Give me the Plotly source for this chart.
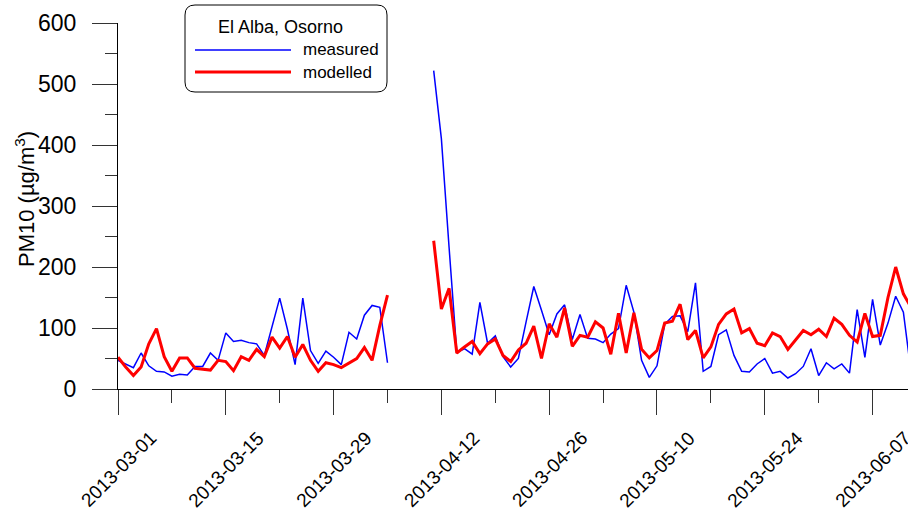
import pandas as pd
import plotly.graph_objects as go

# ---------------- data ----------------
start_date = "2013-03-01"
n_days = 104  # 2013-03-01 .. 2013-06-12

measured_part1 = [47, 41, 35, 59, 38, 29, 28, 21, 24, 23, 37, 37, 59, 47, 92, 78, 80, 76,
                  74, 55, 100, 149, 98, 40, 149, 63, 42, 62, 52, 40, 93, 82, 121, 137, 134, 43]
measured_part2 = [522, 410, 232, 60, 66, 57, 142, 75, 87, 53, 36, 50, 110, 168, 129, 89, 123,
                  138, 81, 122, 83, 82, 76, 90, 99, 170, 126, 47, 19, 38, 106, 119, 120, 94,
                  174, 29, 37, 89, 97, 55, 29, 28, 41, 50, 26, 29, 18, 25, 37, 66, 22, 43, 33,
                  41, 26, 130, 52, 147, 72, 108, 152, 126, 27]

modelled_part1 = [52, 36, 22, 36, 74, 99, 53, 29, 51, 51, 34, 32, 31, 47, 45, 30, 53, 47,
                  65, 53, 85, 67, 86, 52, 73, 47, 29, 43, 40, 35, 42, 50, 68, 47, 104, 154]
modelled_part2 = [243, 131, 165, 59, 69, 78, 58, 74, 82, 55, 45, 64, 75, 103, 50, 107, 85,
                  133, 70, 88, 85, 110, 100, 57, 124, 59, 125, 65, 51, 63, 108, 111, 139, 81,
                  96, 51, 69, 106, 123, 131, 92, 99, 75, 71, 92, 86, 65, 80, 96, 89, 98, 86,
                  116, 106, 88, 77, 124, 86, 88, 150, 200, 156, 134]

gap = [None] * 5  # 2013-04-06 .. 2013-04-10 missing

measured = measured_part1 + gap + measured_part2
modelled = modelled_part1 + gap + modelled_part2

tick_labels = ["2013-03-01", "2013-03-15", "2013-03-29", "2013-04-12",
               "2013-04-26", "2013-05-10", "2013-05-24", "2013-06-07"]

station = "El Alba, Osorno"
series_names = ["measured", "modelled"]
y_title = "PM10 (µg/m<sup>3</sup>)"

dates = pd.date_range(start_date, periods=n_days, freq="D")

# ---------------- figure ----------------
W, H = 908, 515
PL, PT, PB = 118, 23, 389        # plot area edges in pixels
ML, MR, MT, MB = PL, 0, PT, H - PB
PW, PH = W - ML - MR, H - MT - MB
FONT = "Liberation Sans, Arial, sans-serif"


def px(xp):
    return (xp - PL) / PW


def py(yp):
    return (PB - yp) / PH


fig = go.Figure()
fig.add_trace(go.Scatter(x=dates, y=measured, mode="lines", name=series_names[0],
                         line=dict(color="#0000FF", width=1.5), connectgaps=False,
                         showlegend=False))
fig.add_trace(go.Scatter(x=dates, y=modelled, mode="lines", name=series_names[1],
                         line=dict(color="#FF0000", width=3), connectgaps=False,
                         showlegend=False))

DAY = 86400000
fig.update_xaxes(
    type="date", range=["2013-03-01", "2013-06-11 14:24"],
    tick0="2013-03-01", dtick=14 * DAY, ticks="outside", ticklen=25,
    tickcolor="#333333", tickwidth=1, showticklabels=False,
    showline=True, linecolor="black", linewidth=1,
    showgrid=False, zeroline=False,
    minor=dict(tick0="2013-03-01", dtick=7 * DAY, ticks="outside", ticklen=13,
               tickcolor="#333333", tickwidth=1, showgrid=False),
)
fig.update_yaxes(
    range=[0, 600], dtick=100, ticks="outside", ticklen=25, tickcolor="#333333",
    tickwidth=1, showline=True, linecolor="black", linewidth=1,
    showgrid=False, zeroline=False,
    tickfont=dict(family=FONT, size=23, color="black"), ticklabelstandoff=11,
    minor=dict(dtick=50, ticks="outside", ticklen=12, tickcolor="#333333",
               tickwidth=1, showgrid=False),
)

annotations = []
# x tick labels (rotated, centred under ticks)
for lab in tick_labels:
    annotations.append(dict(x=lab, y=py(469), xref="x", yref="paper", text=lab,
                            textangle=-45, showarrow=False, xanchor="center",
                            yanchor="middle", font=dict(family=FONT, size=19, color="black")))
# y title
annotations.append(dict(x=px(25), y=py(199), xref="paper", yref="paper", text=y_title,
                        textangle=-90, showarrow=False, xanchor="center", yanchor="middle",
                        font=dict(family=FONT, size=22, color="black")))
# legend texts
annotations.append(dict(x=px(280), y=py(27), xref="paper", yref="paper", text=station,
                        showarrow=False, xanchor="center", yanchor="middle",
                        font=dict(family=FONT, size=18, color="black")))
annotations.append(dict(x=px(301), y=py(50), xref="paper", yref="paper", text=series_names[0],
                        showarrow=False, xanchor="left", yanchor="middle",
                        font=dict(family=FONT, size=17, color="black")))
annotations.append(dict(x=px(301), y=py(72), xref="paper", yref="paper", text=series_names[1],
                        showarrow=False, xanchor="left", yanchor="middle",
                        font=dict(family=FONT, size=17, color="black")))

# legend box (rounded rectangle) and sample lines
x0, x1, y0, y1, r = 185, 387, 5, 92, 10
path = (f"M {px(x0 + r)},{py(y0)} L {px(x1 - r)},{py(y0)} "
        f"Q {px(x1)},{py(y0)} {px(x1)},{py(y0 + r)} "
        f"L {px(x1)},{py(y1 - r)} Q {px(x1)},{py(y1)} {px(x1 - r)},{py(y1)} "
        f"L {px(x0 + r)},{py(y1)} Q {px(x0)},{py(y1)} {px(x0)},{py(y1 - r)} "
        f"L {px(x0)},{py(y0 + r)} Q {px(x0)},{py(y0)} {px(x0 + r)},{py(y0)} Z")
shapes = [
    dict(type="path", path=path, xref="paper", yref="paper",
         line=dict(color="black", width=1), fillcolor="white"),
    dict(type="line", xref="paper", yref="paper", x0=px(195), x1=px(291), y0=py(50), y1=py(50),
         line=dict(color="#0000FF", width=1.5)),
    dict(type="line", xref="paper", yref="paper", x0=px(195), x1=px(291), y0=py(72), y1=py(72),
         line=dict(color="#FF0000", width=3)),
]

fig.update_layout(
    width=W, height=H, margin=dict(l=ML, r=MR, t=MT, b=MB, pad=0),
    paper_bgcolor="white", plot_bgcolor="white",
    font=dict(family=FONT, color="black"),
    annotations=annotations, shapes=shapes, showlegend=False,
)

fig.write_html(
    "out.html",
    config={"displayModeBar": False},
    post_script="document.body.style.margin='0';document.body.style.overflow='hidden';",
)
